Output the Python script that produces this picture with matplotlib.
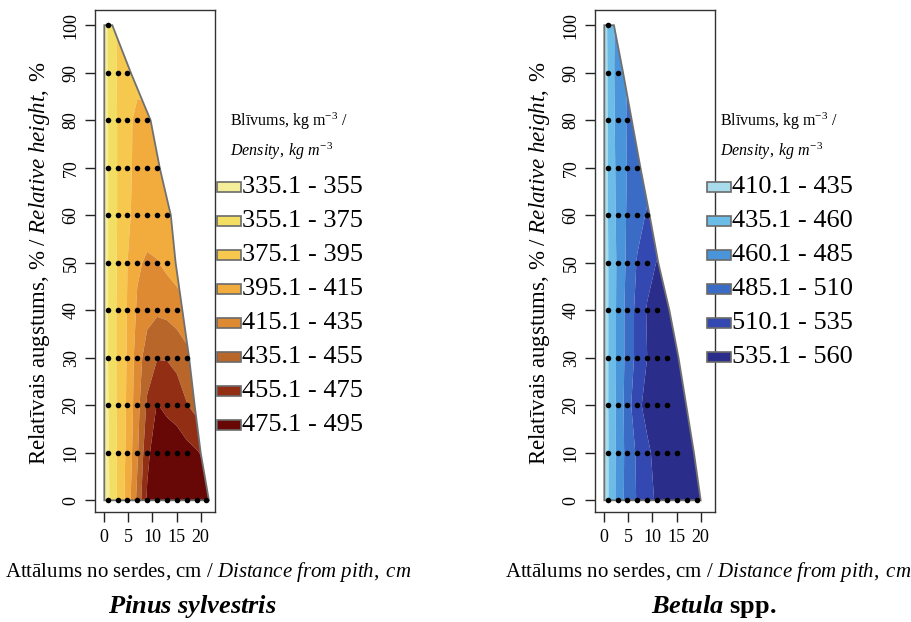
import numpy as np
import matplotlib
matplotlib.use('Agg')
import matplotlib.pyplot as plt
from matplotlib.patches import Polygon, Rectangle

plt.rcParams['font.family'] = 'serif'
plt.rcParams['font.serif'] = ['Liberation Serif', 'DejaVu Serif']
plt.rcParams['mathtext.fontset'] = 'custom'
plt.rcParams['mathtext.rm'] = 'Liberation Serif'
plt.rcParams['mathtext.it'] = 'Liberation Serif:italic'
plt.rcParams['mathtext.bf'] = 'Liberation Serif:bold'
plt.rcParams['mathtext.bfit'] = 'Liberation Serif:bold:italic'

W, H = 912, 622

# relative height (%) and radial grid (cm)
heights = [0, 10, 20, 30, 40, 50, 60, 70, 80, 90, 100]
x_cols = [0, 0.7, 2.75, 4.8, 6.85, 8.9, 10.95, 13.0, 15.05, 17.1, 19.15, 21.2, 23.0]
sample_x = [0.7, 2.75, 4.8, 6.85, 8.9, 10.95, 13.0, 15.05, 17.1, 19.15, 21.2]

# Pinus sylvestris
pinus_radius = [21.7, 20.0, 18.75, 17.6, 16.2, 14.8, 13.8, 11.5, 9.6, 5.5, 1.66]
pinus_ndots = [11, 9, 9, 9, 8, 7, 7, 6, 5, 3, 1]
pinus_density = [
    [340, 350, 377, 403, 440, 478, 485, 488, 488, 486, 484, 482, 480],
    [341, 352, 377, 400, 432, 470, 488, 490, 488, 482, 477, 470, 465],
    [342, 353, 378, 398, 428, 458, 476, 470, 465, 456, 448, 442, 440],
    [343, 354, 378, 397, 425, 445, 454, 454, 450, 442, 438, 435, 433],
    [343, 354, 378, 396, 418, 428, 432, 430, 425, 418, 412, 410, 408],
    [343, 354, 377, 395, 412, 418, 416, 410, 405, 402, 400, 400, 400],
    [343, 354, 376, 391, 403, 405, 404, 402, 400, 398, 398, 398, 398],
    [343, 354, 376, 390, 401, 404, 402, 400, 398, 397, 397, 397, 397],
    [342, 354, 376, 391, 399, 400, 398, 397, 396, 396, 396, 396, 396],
    [341, 356, 377, 389, 390, 388, 387, 386, 386, 386, 386, 386, 386],
    [340, 356, 378, 385, 385, 385, 385, 385, 385, 385, 385, 385, 385],
]
pinus_levels = [335, 355, 375, 395, 415, 435, 455, 475, 495]
pinus_labels = ['335.1 - 355', '355.1 - 375', '375.1 - 395', '395.1 - 415',
                '415.1 - 435', '435.1 - 455', '455.1 - 475', '475.1 - 495']
pinus_colors = ['#F4EE98', '#F3DE64', '#F6C84E', '#F2AC3E',
                '#DE8A32', '#B8662A', '#912E14', '#680806']

# Betula spp.
betula_radius = [20.0, 18.6, 17.0, 15.4, 13.5, 11.2, 9.4, 7.5, 5.7, 3.9, 2.0]
betula_ndots = [10, 8, 7, 7, 6, 5, 5, 4, 3, 2, 1]
betula_density = [
    [420, 432, 468, 495, 512, 528, 538, 545, 548, 550, 550, 550, 550],
    [420, 432, 467, 494, 514, 532, 540, 545, 548, 550, 550, 550, 550],
    [420, 433, 466, 497, 531, 540, 545, 547, 548, 550, 550, 550, 550],
    [420, 433, 465, 494, 518, 535, 542, 545, 545, 545, 545, 545, 545],
    [420, 433, 465, 494, 518, 537, 542, 545, 545, 545, 545, 545, 545],
    [420, 433, 464, 490, 512, 526, 536, 540, 540, 540, 540, 540, 540],
    [420, 434, 466, 488, 502, 512, 518, 520, 520, 520, 520, 520, 520],
    [420, 434, 468, 486, 496, 502, 505, 505, 505, 505, 505, 505, 505],
    [420, 435, 470, 487, 495, 498, 500, 500, 500, 500, 500, 500, 500],
    [420, 436, 472, 486, 490, 490, 490, 490, 490, 490, 490, 490, 490],
    [420, 438, 470, 485, 485, 485, 485, 485, 485, 485, 485, 485, 485],
]
betula_levels = [410, 435, 460, 485, 510, 535, 560]
betula_labels = ['410.1 - 435', '435.1 - 460', '460.1 - 485',
                 '485.1 - 510', '510.1 - 535', '535.1 - 560']
betula_colors = ['#A9DCEA', '#6CBCE8', '#4A94DA', '#3A6CC6', '#3348B0', '#2B2D8A']


def fx(px):
    return px / W


def fy(py):
    return 1 - py / H


fig = plt.figure(figsize=(W / 100, H / 100), dpi=100)


def panel(left, radius, ndots, dens, levels, colors, labels, leg_x,
          title, title_x):
    ax = fig.add_axes([fx(left), fy(512), 120 / W, 502 / H])
    cs = ax.contourf(x_cols, heights, dens, levels=levels, colors=colors,
                     antialiased=True)
    verts = [(0, 0)] + list(zip(radius, heights)) + [(0, 100)]
    stem = Polygon(verts, closed=True, transform=ax.transData)
    cs.set_clip_path(stem)
    ax.add_patch(Polygon(verts, closed=True, fill=False, ec='#707070', lw=1.3))
    for h, n in zip(heights, ndots):
        ax.plot(sample_x[:n], [h] * n, 'o', color='black', ms=4, mew=0)

    ax.set_xlim(-1.93, 22.97)
    ax.set_ylim(-2.46, 103.2)
    ax.set_xticks([0, 5, 10, 15, 20])
    ax.set_yticks(heights)
    ax.set_yticklabels([str(h) for h in heights], rotation=90, va='center')
    ax.tick_params(length=7, width=1, labelsize=13, color='#222222')
    ax.tick_params(axis='y', pad=4)
    ax.tick_params(axis='x', pad=5)
    for s in ax.spines.values():
        s.set_color('#333333')
        s.set_linewidth(1)

    fig.text(fx(left - 55), fy(263),
             'Relatīvais augstums, % / $\\mathit{Relative\\ height,\\;\\%}$',
             rotation=90, ha='center', va='center', fontsize=16.5)
    fig.text(fx(left + 113), fy(572),
             'Attālums no serdes, cm / $\\mathit{Distance\\ from\\ pith,\\;cm}$',
             ha='center', va='center', fontsize=15)
    fig.text(fx(title_x), fy(606), title, ha='center', va='center',
             fontsize=19, fontweight='bold')

    # legend
    fig.text(fx(leg_x + 13), fy(121), 'Blīvums, kg m$^{-3}$ /',
             ha='left', va='center', fontsize=11.5)
    fig.text(fx(leg_x + 13), fy(151), '$\\mathit{Density,\\;kg\\ m^{-3}}$',
             ha='left', va='center', fontsize=11.5)
    for i, (lab, col) in enumerate(zip(labels, colors)):
        yc = 187 + 34 * i
        fig.patches.append(Rectangle((fx(leg_x), fy(yc + 5)), 24 / W, 10 / H,
                                     transform=fig.transFigure, fc=col,
                                     ec='#6a6a6a', lw=1.2))
        fig.text(fx(leg_x + 25), fy(yc), lab, ha='left', va='center',
                 fontsize=19)


panel(95, pinus_radius, pinus_ndots, pinus_density, pinus_levels,
      pinus_colors, pinus_labels, 217, '$\\mathbfit{Pinus\\ sylvestris}$', 192)
panel(595, betula_radius, betula_ndots, betula_density, betula_levels,
      betula_colors, betula_labels, 707, '$\\mathbfit{Betula}$ spp.', 714)

fig.savefig('out.png', dpi=100)
